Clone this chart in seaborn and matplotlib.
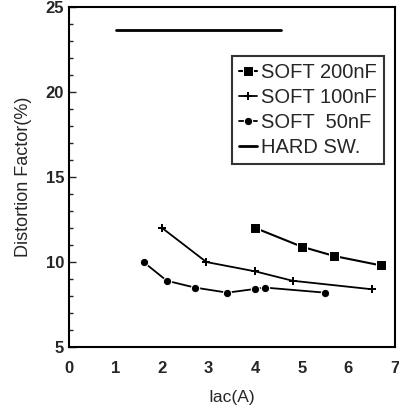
import matplotlib
matplotlib.use("Agg")
import pandas as pd
import seaborn as sns
import matplotlib.pyplot as plt
from matplotlib.ticker import MultipleLocator

# values
iac_200 = [4.0, 5.0, 5.7, 6.7]
df_200 = [12.0, 10.9, 10.35, 9.8]

iac_100 = [2.0, 2.95, 4.0, 4.8, 6.5]
df_100 = [12.0, 10.0, 9.45, 8.9, 8.4]

iac_50 = [1.6, 2.1, 2.7, 3.4, 4.0, 4.2, 5.5]
df_50 = [10.0, 8.9, 8.5, 8.2, 8.42, 8.5, 8.2]

iac_hard = [1.0, 4.55]
df_hard = [23.65, 23.65]

labels = ["SOFT 200nF", "SOFT 100nF", "SOFT  50nF", "HARD SW."]

sns.set_style("ticks")
plt.rcParams['font.family'] = ['Liberation Sans', 'DejaVu Sans']

fig = plt.figure(figsize=(3.99, 4.05), dpi=100)
ax = fig.add_axes([0.173, 0.143, 0.817, 0.840])

sns.lineplot(x=iac_200, y=df_200, ax=ax, color="black", marker="s",
             markersize=7, linewidth=1.5, label=labels[0])
sns.lineplot(x=iac_100, y=df_100, ax=ax, color="black", marker="P",
             markersize=6, markeredgewidth=0, linewidth=1.3, label=labels[1])
sns.lineplot(x=iac_50, y=df_50, ax=ax, color="black", marker="o",
             markersize=6, linewidth=1.3, label=labels[2])
sns.lineplot(x=iac_hard, y=df_hard, ax=ax, color="black",
             linewidth=2, label=labels[3])

ax.set_xlim(0, 7)
ax.set_ylim(5, 25)
ax.yaxis.set_major_locator(MultipleLocator(5))
ax.yaxis.set_minor_locator(MultipleLocator(1))
ax.xaxis.set_major_locator(MultipleLocator(1))
ax.tick_params(axis="y", which="both", direction="in", length=5, width=1)
ax.tick_params(axis="y", which="minor", length=3)
ax.tick_params(axis="x", length=0, pad=10)
ax.tick_params(labelsize=12)
for t in ax.get_xticklabels() + ax.get_yticklabels():
    t.set_fontweight("bold")

for s in ax.spines.values():
    s.set_linewidth(1.5)
    s.set_color("black")

ax.set_xlabel("Iac(A)", fontsize=12.5, labelpad=10)
ax.set_ylabel("Distortion Factor(%)", fontsize=13, labelpad=10)

leg = ax.legend(loc="upper right", bbox_to_anchor=(0.967, 0.855),
                fontsize=14.5, frameon=True, fancybox=False,
                handlelength=0.9, handletextpad=0.2, borderpad=0.35,
                labelspacing=0.3, borderaxespad=0)
leg.get_frame().set_edgecolor("black")
leg.get_frame().set_linewidth(1.5)

plt.savefig("out.png", dpi=100)
